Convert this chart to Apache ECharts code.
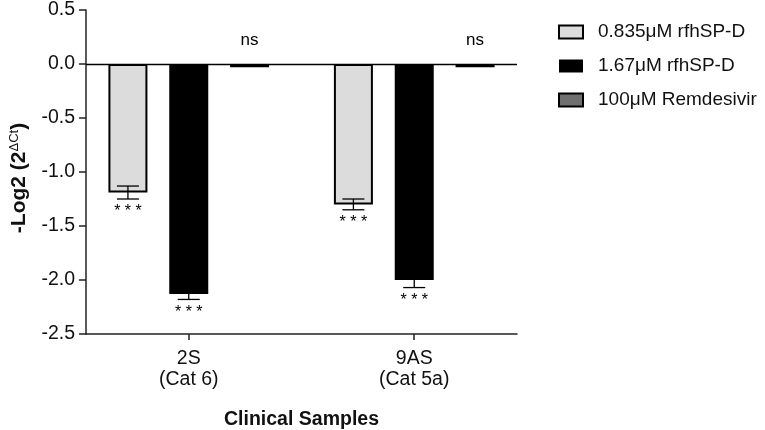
<!DOCTYPE html>
<html>
<head>
<meta charset="utf-8">
<script src="https://cdn.jsdelivr.net/npm/echarts@6/dist/echarts.min.js"></script>
<style>
  html, body { margin: 0; padding: 0; background: #fff; }
  #chart { width: 765px; height: 430px; }
</style>
</head>
<body>
<div id="chart"></div>
<script>
// data
var samples = ['2S\n(Cat 6)', '9AS\n(Cat 5a)'];
var samplePos = [1, 2];
var seriesNames = ['0.835\u03bcM rfhSP-D', '1.67\u03bcM rfhSP-D', '100\u03bcM Remdesivir'];
var lowDose = [-1.19, -1.30];
var highDose = [-2.13, -2.00];
var remdesivir = [-0.03, -0.03];
var lowDoseErr = [0.06, 0.05];
var highDoseErr = [0.05, 0.07];
var remdesivirErr = [0.01, 0.01];
var lowDoseSig = ['* * *', '* * *'];
var highDoseSig = ['* * *', '* * *'];
var remdesivirSig = ['ns', 'ns'];

var FONT = 'Liberation Sans, Arial, sans-serif';
var barW = 39;
var barGap = 0.56;

var allVals = [lowDose, highDose, remdesivir];
var allErr = [lowDoseErr, highDoseErr, remdesivirErr];
var allSig = [lowDoseSig, highDoseSig, remdesivirSig];
var fills = ['#dcdcdc', '#000000', '#707070'];

var chart = echarts.init(document.getElementById('chart'));

var series = [];
allVals.forEach(function (vals, i) {
  series.push({
    name: seriesNames[i],
    type: 'bar',
    barWidth: barW,
    barGap: (barGap * 100) + '%',
    data: vals.map(function (v, k) { return [samplePos[k], v]; }),
    itemStyle: { color: fills[i], borderColor: '#000', borderWidth: i === 1 ? 0 : 2 },
    markLine: i === 0 ? {
      silent: true,
      symbol: 'none',
      label: { show: false },
      lineStyle: { color: '#000', width: 1.3, type: 'solid' },
      data: [{ yAxis: 0 }]
    } : undefined,
    z: 2
  });
});

// error bars + significance marks
var errData = [];
allVals.forEach(function (vals, i) {
  vals.forEach(function (v, k) {
    errData.push([samplePos[k], v, allErr[i][k], i, k]);
  });
});

series.push({
  type: 'custom',
  silent: true,
  z: 5,
  data: errData,
  encode: { x: 0, y: 1 },
  renderItem: function (params, api) {
    var x = api.value(0), v = api.value(1), e = api.value(2), idx = api.value(3), k = api.value(4);
    var sig = allSig[idx][k];
    var off = (idx - 1) * barW * (1 + barGap);
    var top = api.coord([x, v + e]);
    var bot = api.coord([x, v - e]);
    var zero = api.coord([x, 0]);
    var cx = top[0] + off;
    var cap = 11;
    var children = [];
    if (idx !== 2) {
      var st = { stroke: '#000', lineWidth: 1.3 };
      children.push({ type: 'line', shape: { x1: cx, y1: top[1], x2: cx, y2: bot[1] }, style: st });
      children.push({ type: 'line', shape: { x1: cx - cap, y1: top[1], x2: cx + cap, y2: top[1] }, style: st });
      children.push({ type: 'line', shape: { x1: cx - cap, y1: bot[1], x2: cx + cap, y2: bot[1] }, style: st });
      children.push({
        type: 'text',
        style: { text: sig, x: cx, y: bot[1] + 5, align: 'center', verticalAlign: 'top',
          font: '16px ' + FONT, fill: '#000' }
      });
    } else {
      children.push({
        type: 'text',
        style: { text: sig, x: cx, y: zero[1] - 15, align: 'center', verticalAlign: 'bottom',
          font: '17px ' + FONT, fill: '#000' }
      });
    }
    return { type: 'group', children: children };
  }
});

var option = {
  animation: false,
  backgroundColor: '#fff',
  textStyle: { fontFamily: FONT },
  grid: { left: 86, right: 248, top: 10, bottom: 96, containLabel: false, outerBoundsMode: 'none' },
  legend: {
    orient: 'vertical',
    left: 558,
    top: 22,
    padding: 0,
    itemWidth: 24,
    itemHeight: 13,
    itemGap: 14,
    icon: 'rect',
    data: seriesNames,
    textStyle: { fontSize: 19, lineHeight: 20, color: '#111', fontFamily: FONT, padding: [0, 0, 0, 10] }
  },
  xAxis: {
    type: 'value',
    min: 1 - 103 / 226,
    max: 2 + 103 / 226,
    splitLine: { show: false },
    axisLine: { onZero: false, lineStyle: { color: '#222', width: 1.5 } },
    axisTick: { show: true, customValues: samplePos, length: 6, lineStyle: { color: '#222', width: 1.5 } },
    axisLabel: {
      customValues: samplePos,
      formatter: function (v) { return samples[samplePos.indexOf(v)] || ''; },
      fontSize: 19.5, color: '#111', lineHeight: 21, margin: 14, fontFamily: FONT
    },
    name: 'Clinical Samples',
    nameLocation: 'middle',
    nameGap: 76,
    nameTextStyle: { fontSize: 19.5, fontWeight: 'bold', color: '#111', fontFamily: FONT }
  },
  yAxis: {
    type: 'value',
    min: -2.5,
    max: 0.5,
    interval: 0.5,
    splitLine: { show: false },
    axisLine: { show: true, lineStyle: { color: '#222', width: 1.5 } },
    axisTick: { show: true, length: 7, lineStyle: { color: '#222', width: 1.5 } },
    axisLabel: {
      fontSize: 19.5, color: '#111', margin: 11, fontFamily: FONT,
      formatter: function (v) { return v.toFixed(1); }
    },
    name: '{a|-Log2 (2}{b|\u0394Ct}{c|)}',
    nameLocation: 'middle',
    nameRotate: 90,
    nameGap: 55,
    nameTextStyle: {
      rich: {
        a: { fontSize: 21, fontWeight: 'bold', color: '#111', fontFamily: FONT },
        b: { fontSize: 13, color: '#111', fontFamily: FONT, verticalAlign: 'bottom', padding: [0, 0, 10, 0] },
        c: { fontSize: 21, fontWeight: 'bold', color: '#111', fontFamily: FONT, padding: [0, 12, 0, 0] }
      }
    }
  },
  series: series
};

chart.setOption(option);
</script>
</body>
</html>
